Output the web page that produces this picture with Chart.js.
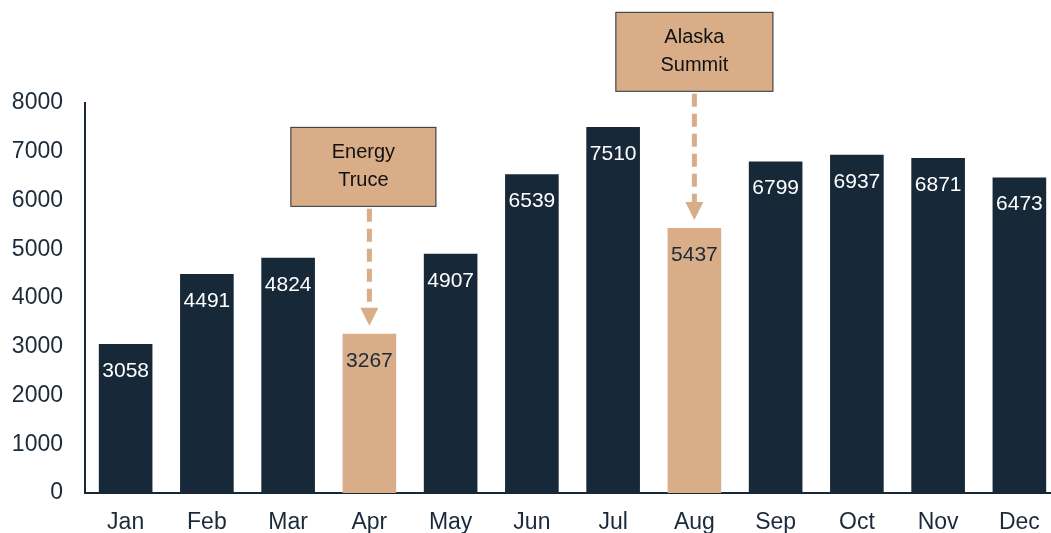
<!DOCTYPE html>
<html lang="en">
<head>
    <meta charset="UTF-8">
    <title>Monthly values</title>
    <script src="https://cdn.jsdelivr.net/npm/chart.js"></script>
    <style>
      html, body { margin: 0; padding: 0; background: #ffffff; overflow: hidden; }
    </style>
</head>
<body>
  <canvas id="grafico" width="1070" height="533"></canvas>
  <script>
    // data
    const meses = ['Jan', 'Feb', 'Mar', 'Apr', 'May', 'Jun', 'Jul', 'Aug', 'Sep', 'Oct', 'Nov', 'Dec'];
    const valores = [3058, 4491, 4824, 3267, 4907, 6539, 7510, 5437, 6799, 6937, 6871, 6473];
    const destaques = ['Apr', 'Aug'];
    // annotation boxes: month, text lines, box top/bottom in value units
    const notasMes = ['Apr', 'Aug'];
    const notasTexto = [['Energy', 'Truce'], ['Alaska', 'Summit']];
    const notasTopo = [7510, 9870];
    const notasBase = [5870, 8230];
    const notasLargura = [146, 158];
    const notasDesvio = [-6, 0];

    const azul = '#172839';
    const bege = '#D8AD88';
    const corTexto = '#1B2A3A';
    const fonte = 'Liberation Sans, Arial, sans-serif';

    const coresBarras = meses.map(m => destaques.includes(m) ? bege : azul);

    const rotulosPlugin = {
      id: 'rotulos',
      afterDatasetsDraw(chart) {
        const ctx = chart.ctx;
        const meta = chart.getDatasetMeta(0);
        ctx.save();
        ctx.font = '21px ' + fonte;
        ctx.textAlign = 'center';
        ctx.textBaseline = 'middle';
        meta.data.forEach((bar, i) => {
          ctx.fillStyle = destaques.includes(meses[i]) ? corTexto : '#ffffff';
          ctx.fillText(String(valores[i]), bar.x, bar.y + 27);
        });
        ctx.restore();
      }
    };

    const notasPlugin = {
      id: 'notas',
      afterDraw(chart) {
        const ctx = chart.ctx;
        const x = chart.scales.x;
        const y = chart.scales.y;
        ctx.save();
        notasMes.forEach((mes, i) => {
          const idx = meses.indexOf(mes);
          const cx = x.getPixelForValue(idx);
          const bx = cx + notasDesvio[i];
          const topo = y.getPixelForValue(notasTopo[i]);
          const base = y.getPixelForValue(notasBase[i]);
          const larg = notasLargura[i];
          const alvo = y.getPixelForValue(valores[idx]) - 8;

          // dashed arrow
          ctx.strokeStyle = bege;
          ctx.lineWidth = 5;
          ctx.setLineDash([13, 7]);
          ctx.beginPath();
          ctx.moveTo(cx, base + 2);
          ctx.lineTo(cx, alvo - 16);
          ctx.stroke();
          ctx.setLineDash([]);
          ctx.fillStyle = bege;
          ctx.beginPath();
          ctx.moveTo(cx - 9, alvo - 18);
          ctx.lineTo(cx + 9, alvo - 18);
          ctx.lineTo(cx, alvo);
          ctx.closePath();
          ctx.fill();

          // box
          ctx.fillStyle = bege;
          ctx.fillRect(bx - larg / 2, topo, larg, base - topo);
          ctx.strokeStyle = '#2A3A4A';
          ctx.lineWidth = 1;
          ctx.strokeRect(bx - larg / 2 + 0.5, topo + 0.5, larg - 1, base - topo - 1);

          ctx.fillStyle = '#111111';
          ctx.font = '20px ' + fonte;
          ctx.textAlign = 'center';
          ctx.textBaseline = 'middle';
          const meio = (topo + base) / 2;
          ctx.fillText(notasTexto[i][0], bx, meio - 14);
          ctx.fillText(notasTexto[i][1], bx, meio + 14);
        });
        ctx.restore();
      }
    };

    new Chart(document.getElementById('grafico'), {
      type: 'bar',
      data: {
        labels: meses,
        datasets: [{
          data: valores,
          backgroundColor: coresBarras,
          borderWidth: 0,
          barPercentage: 0.66,
          categoryPercentage: 1
        }]
      },
      options: {
        responsive: false,
        animation: false,
        devicePixelRatio: 1,
        layout: { padding: { top: 103, right: 10, left: 0, bottom: 0 } },
        plugins: {
          legend: { display: false },
          tooltip: { enabled: false }
        },
        scales: {
          x: {
            grid: { display: false, drawTicks: false },
            border: { display: true, color: azul, width: 2 },
            ticks: { color: corTexto, font: { size: 23, family: fonte }, padding: 16, maxRotation: 0 },
            afterFit: s => { s.height = 40; }
          },
          y: {
            min: 0,
            max: 8000,
            grid: { display: false, drawTicks: false },
            border: { display: true, color: azul, width: 2 },
            ticks: {
              stepSize: 1000,
              color: corTexto,
              font: { size: 23, family: fonte },
              padding: 22,
              callback: v => String(v)
            },
            afterFit: s => { s.width = 85; }
          }
        }
      },
      plugins: [rotulosPlugin, notasPlugin]
    });
  </script>
</body>
</html>
